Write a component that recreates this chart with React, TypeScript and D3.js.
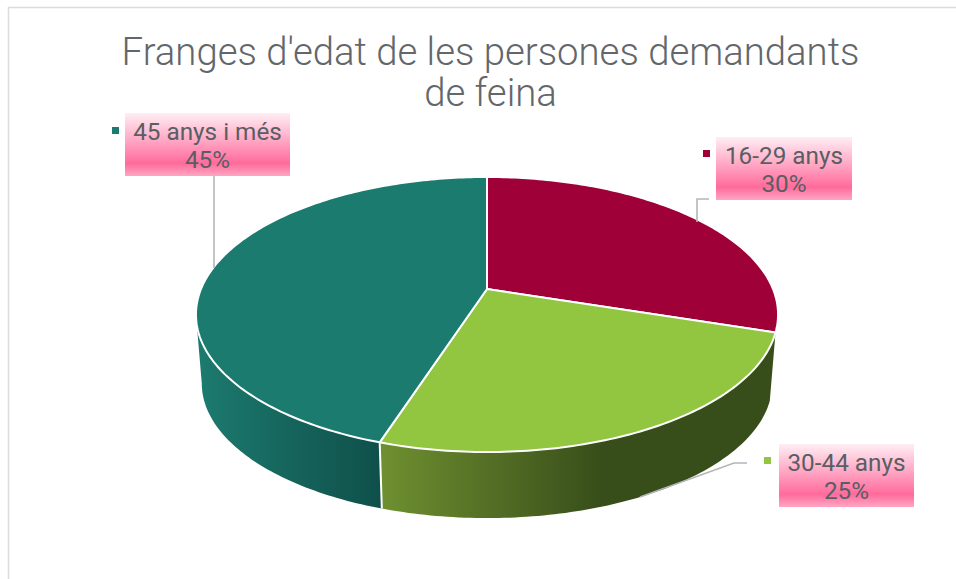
import * as d3 from 'd3';

const categories = ['16-29 anys', '30-44 anys', '45 anys i més'];
const shares = [30, 25, 45];
const topColors = ['#a00038', '#92c640', '#1c7b6f'];
const titleLines = ["Franges d'edat de les persones demandants", 'de feina'];

const width = 956;
const height = 579;
const cx = 487;
const cy = 289;
const rx = 286;
const ry = 132.8;
const tilt = 0.1855;
const depth = 69.3;
const bottomScale = 0.98;

type Pt = [number, number];

// perspective view of the pie disc, angle in radians clockwise from 12 o'clock
const rim = (a: number, lower = false): Pt => {
    const u = Math.sin(a);
    const v = -Math.cos(a);
    const w = 1 - tilt * v;
    const s = lower ? bottomScale : 1;
    return [cx + (s * rx * u) / w, cy + (lower ? depth : 0) + (s * ry * v) / w];
};

const sample = (a0: number, a1: number, lower = false): Pt[] => {
    const n = Math.max(2, Math.ceil(Math.abs(a1 - a0) * 60));
    return d3.range(n + 1).map(i => rim(a0 + ((a1 - a0) * i) / n, lower));
};

const line = d3.line<Pt>();

const arcs = d3.pie<number>().sort(null).value(d => d)(shares);

// walls are only seen between the right and left edges of the disc
const visibleFrom = Math.acos(-tilt);
const visibleTo = 2 * Math.PI - Math.acos(-tilt);

const walls = [
    { i: 1, grad: 'wall-green' },
    { i: 2, grad: 'wall-teal' },
];

const labels = [
    { i: 0, x: 716, y: 137, w: 136, h: 63, marker: [703, 150], leader: [[697, 222], [697, 199], [709, 199]] },
    { i: 1, x: 779, y: 444, w: 135, h: 63, marker: [764, 457], leader: [[640, 497], [734, 463], [747, 463]] },
    { i: 2, x: 125, y: 113, w: 165, h: 63, marker: [112, 127], leader: [[214, 268], [214, 176]] },
];

export default function App() {
    return (
        <svg
            width={width}
            height={height}
            style={{ position: 'absolute', left: 0, top: 0, background: '#fff' }}
            fontFamily="Roboto, sans-serif"
        >
            <defs>
                <linearGradient id="wall-green" gradientUnits="userSpaceOnUse" x1={380} x2={600} y1={0} y2={0}>
                    <stop offset="0" stopColor="#6f9030" />
                    <stop offset="1" stopColor="#384e1a" />
                </linearGradient>
                <linearGradient id="wall-teal" gradientUnits="userSpaceOnUse" x1={196} x2={382} y1={0} y2={0}>
                    <stop offset="0" stopColor="#1c7b6f" />
                    <stop offset="1" stopColor="#0f4f4a" />
                </linearGradient>
                <linearGradient id="label-fill" x1={0} x2={0} y1={0} y2={1}>
                    <stop offset="0" stopColor="#ffeef4" />
                    <stop offset="0.8" stopColor="#ff6b9c" />
                    <stop offset="1" stopColor="#ffa6c3" />
                </linearGradient>
            </defs>

            <path d="M8.5,579V7.5H956" fill="none" stroke="#dcdcdc" strokeWidth={1.5} />

            <text textAnchor="middle" fontSize={38.3} fontWeight={300} fill="#63666a">
                <tspan x={490.5} y={65}>{titleLines[0]}</tspan>
                <tspan x={490.5} y={106}>{titleLines[1]}</tspan>
            </text>

            {walls.map(({ i, grad }) => {
                const a0 = Math.max(arcs[i].startAngle, visibleFrom);
                const a1 = Math.min(arcs[i].endAngle, visibleTo);
                const pts = [...sample(a0, a1), ...sample(a1, a0, true)];
                return <path key={grad} d={line(pts) + 'Z'} fill={`url(#${grad})`} />;
            })}
            {/* seam between the two walls */}
            <path
                d={line([rim(arcs[1].endAngle), rim(arcs[1].endAngle, true)]) ?? ''}
                stroke="#fff"
                strokeWidth={2}
            />

            {arcs.map((arc, i) => (
                <path
                    key={categories[i]}
                    d={line([[cx, cy], ...sample(arc.startAngle, arc.endAngle)]) + 'Z'}
                    fill={topColors[i]}
                    stroke="#fff"
                    strokeWidth={2}
                    strokeLinejoin="round"
                />
            ))}

            {labels.map(l => (
                <g key={l.i}>
                    <path d={line(l.leader as Pt[]) ?? ''} fill="none" stroke="#b3b6b8" strokeWidth={1.6} />
                    <rect x={l.x} y={l.y} width={l.w} height={l.h} fill="url(#label-fill)" />
                    <rect x={l.marker[0]} y={l.marker[1]} width={7} height={7} fill={topColors[l.i]} />
                    <text textAnchor="middle" fontSize={24.3} fill="#5a5e63">
                        <tspan x={l.x + l.w / 2} y={l.y + 27}>{categories[l.i]}</tspan>
                        <tspan x={l.x + l.w / 2} y={l.y + 55}>{shares[l.i]}%</tspan>
                    </text>
                </g>
            ))}
        </svg>
    );
}
